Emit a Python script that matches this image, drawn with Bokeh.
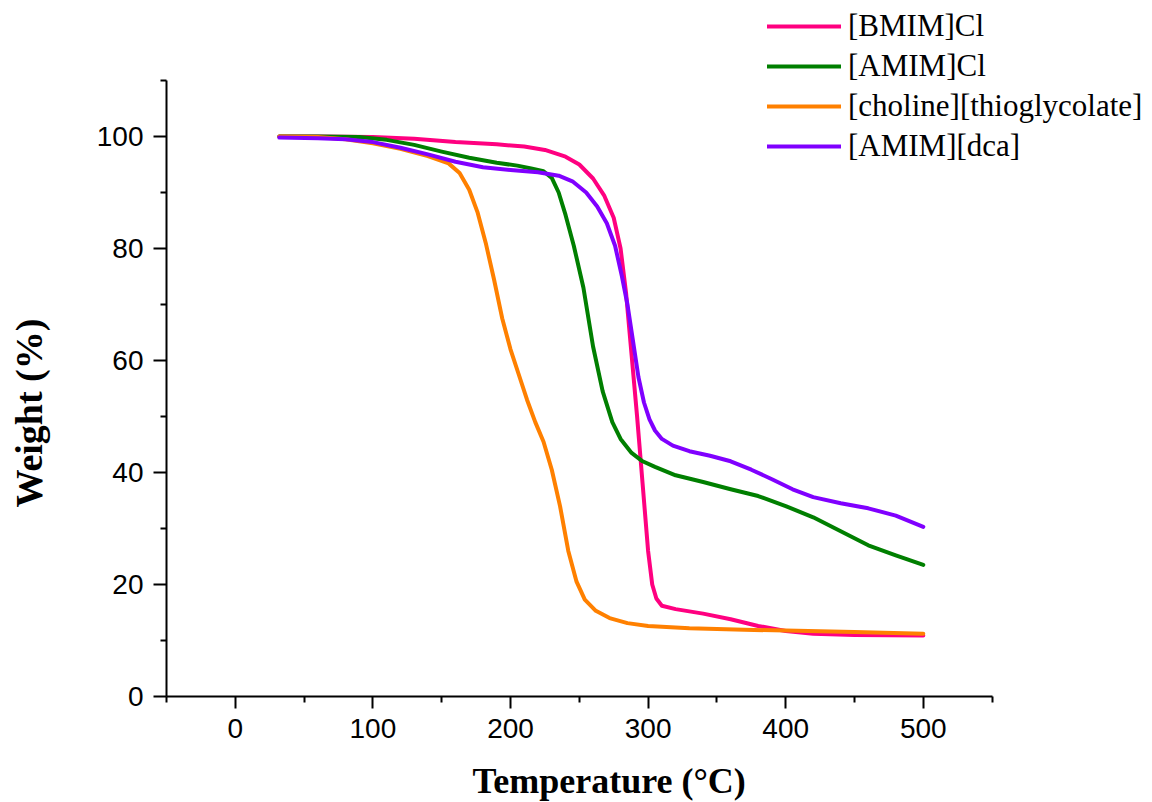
import math
from bokeh.plotting import figure
from bokeh.models import Range1d, FixedTicker, Legend, LegendItem, Label
from bokeh.embed import file_html
from bokeh.resources import INLINE

# ---- data ----
bmim_T = [32, 60, 100, 130, 160, 190, 210, 225, 240, 250, 260, 268, 275, 280, 284, 288, 292, 296, 300, 303, 306, 310, 320, 340, 360, 380, 400, 420, 450, 500]
bmim_W = [100, 100, 99.9, 99.6, 99.0, 98.6, 98.2, 97.6, 96.4, 95.0, 92.5, 89.5, 85.5, 80, 72, 61, 50, 38, 26, 20, 17.5, 16.2, 15.6, 14.8, 13.8, 12.6, 11.7, 11.2, 11.0, 10.9]

amimcl_T = [32, 60, 90, 110, 130, 150, 170, 190, 205, 215, 224, 230, 235, 240, 246, 253, 260, 267, 274, 280, 288, 296, 305, 320, 340, 360, 380, 400, 420, 440, 460, 480, 500]
amimcl_W = [100, 100, 99.9, 99.4, 98.5, 97.3, 96.2, 95.3, 94.8, 94.3, 93.8, 92.6, 90, 86, 80.5, 73, 62.5, 54.5, 49, 46, 43.5, 42, 41, 39.5, 38.3, 37, 35.8, 34, 32, 29.5, 27, 25.2, 23.5]

chol_T = [32, 60, 80, 100, 120, 140, 155, 163, 170, 176, 182, 188, 194, 200, 206, 212, 218, 224, 230, 236, 242, 248, 254, 262, 272, 285, 300, 330, 370, 400, 450, 500]
chol_W = [100, 99.9, 99.5, 98.8, 97.8, 96.5, 95.2, 93.5, 90.5, 86.5, 81, 74.5, 67.5, 62, 57.5, 53, 49, 45.5, 40.5, 34, 26, 20.5, 17.3, 15.3, 14.0, 13.1, 12.6, 12.2, 11.9, 11.8, 11.5, 11.2]

dca_T = [32, 60, 80, 100, 120, 140, 160, 180, 200, 220, 235, 245, 255, 263, 270, 276, 281, 285, 289, 293, 297, 301, 305, 310, 318, 330, 345, 360, 375, 390, 405, 420, 440, 460, 480, 500]
dca_W = [99.8, 99.7, 99.5, 99.0, 98.0, 96.8, 95.5, 94.5, 94.0, 93.6, 93.0, 92.0, 90.0, 87.5, 84.5, 80.5, 75, 70, 63.5, 57, 52.5, 49.5, 47.5, 46, 44.8, 43.8, 43, 42, 40.5, 38.8, 37, 35.6, 34.5, 33.6, 32.3, 30.3]

names = ["[BMIM]Cl", "[AMIM]Cl", "[choline][thioglycolate]", "[AMIM][dca]"]
colors = ["#FF0080", "#007F00", "#FF8000", "#8000FF"]

x_major = [0, 100, 200, 300, 400, 500]
x_minor = [-50, 50, 150, 250, 350, 450, 550]
y_major = [0, 20, 40, 60, 80, 100]
y_minor = [10, 30, 50, 70, 90, 110]
x_axis_span = (-50, 550)
y_axis_span = (0, 110)
x_title = "Temperature (°C)"
y_title = "Weight (%)"

# layout: the frame fills the whole canvas; axes are pinned at the axis-span origin
W, H = 1152, 802
axis_left_px, axis_bottom_px = 166, 106      # distance of the axes from the canvas left / bottom
xscale = 825.6 / 600.0   # px per degree
yscale = 616.0 / 110.0   # px per percent
x_start = x_axis_span[0] - axis_left_px / xscale
y_start = y_axis_span[0] - axis_bottom_px / yscale

p = figure(width=W, height=H, output_backend="svg", toolbar_location=None,
           x_range=Range1d(x_start, x_start + W / xscale),
           y_range=Range1d(y_start, y_start + H / yscale),
           min_border=0, min_border_left=0, min_border_right=0,
           min_border_top=0, min_border_bottom=0)
p.outline_line_color = None
p.xgrid.visible = False
p.ygrid.visible = False

for ax in (p.xaxis[0], p.yaxis[0]):
    ax.axis_line_width = 2
    ax.axis_line_color = "black"
    ax.major_tick_line_width = 2
    ax.minor_tick_line_width = 2
    ax.major_tick_line_color = "black"
    ax.minor_tick_line_color = "black"
    ax.major_tick_in = 0
    ax.minor_tick_in = 0
    ax.minor_tick_out = 6
    ax.major_label_text_font = "Liberation Sans"
    ax.major_label_text_font_size = "28px"
    ax.major_label_text_color = "black"

p.xaxis[0].bounds = x_axis_span
p.yaxis[0].bounds = y_axis_span
p.xaxis[0].fixed_location = y_axis_span[0]
p.yaxis[0].fixed_location = x_axis_span[0]
p.xaxis[0].major_tick_out = 12
p.yaxis[0].major_tick_out = 13
p.xaxis[0].ticker = FixedTicker(ticks=x_major, minor_ticks=x_minor)
p.yaxis[0].ticker = FixedTicker(ticks=y_major, minor_ticks=y_minor)
p.xaxis[0].major_label_standoff = 10
p.yaxis[0].major_label_standoff = 10

# axis titles
p.add_layout(Label(x=472, y=22, x_units="screen", y_units="screen", text=x_title,
                   text_font="Liberation Serif", text_font_style="bold", text_font_size="36px",
                   text_color="black", text_align="left", text_baseline="alphabetic"))
p.add_layout(Label(x=28, y=H - 507, x_units="screen", y_units="screen", text=y_title,
                   angle=math.pi / 2,
                   text_font="Liberation Serif", text_font_style="bold", text_font_size="38px",
                   text_color="black", text_align="left", text_baseline="alphabetic"))

series = [(bmim_T, bmim_W), (amimcl_T, amimcl_W), (chol_T, chol_W), (dca_T, dca_W)]
items = []
for (t, w), name, c in zip(series, names, colors):
    r = p.line(t, w, line_color=c, line_width=4, line_join="round", line_cap="round")
    items.append(LegendItem(label=name, renderers=[r]))

legend = Legend(items=items, location=(767, H - 164), orientation="vertical")
legend.background_fill_alpha = 0
legend.border_line_color = None
legend.label_text_font = "Liberation Serif"
legend.label_text_font_size = "31px"
legend.label_text_color = "black"
legend.glyph_width = 74
legend.glyph_height = 30
legend.label_height = 30
legend.spacing = 4
legend.padding = 0
legend.margin = 0
legend.label_standoff = 7
p.add_layout(legend, "center")

open("out.html", "w").write(file_html(p, INLINE))
